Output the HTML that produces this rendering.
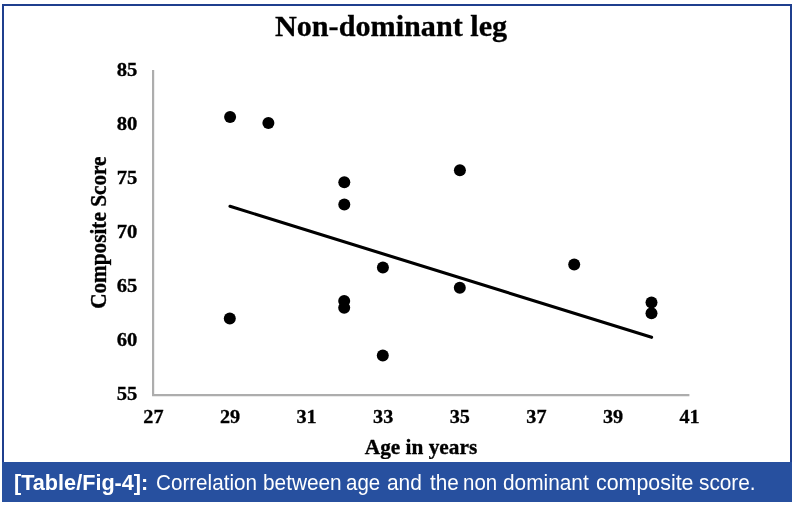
<!DOCTYPE html>
<html>
<head>
<meta charset="utf-8">
<title>Non-dominant leg</title>
<style>
  html, body { margin: 0; padding: 0; background: #ffffff; }
  body { width: 794px; height: 505px; position: relative; overflow: hidden;
         font-family: "Liberation Sans", sans-serif; }
  #frame { position: absolute; left: 2px; top: 4px; width: 786px; height: 494px;
           border: 2px solid #1f3f8e; background: #ffffff; box-sizing: content-box; }
  #bar { position: absolute; left: 2px; top: 462px; width: 790px; height: 39.5px;
         background: #27509f; }
  #cap { position: absolute; left: 0px; top: 470.4px; height: 26px; line-height: 26px;
         color: #ffffff; font-size: 22px; white-space: nowrap;
         font-family: "Liberation Sans", sans-serif; }
  #cap b, #cap span { position: absolute; top: 0; transform-origin: 0 50%; font-weight: normal; }
  #cap b { font-weight: bold; }
  svg { position: absolute; left: 0; top: 0; filter: blur(0.35px); }
  .s { font-family: "Liberation Serif", serif; font-weight: bold; fill: #000; }
</style>
</head>
<body>
<div id="frame"></div>
<div id="bar"></div>
<div id="cap"><b style="left:13.54px;transform:scaleX(0.984)">[Table/Fig-4]:</b> <span style="left:155.97px;transform:scaleX(0.938)">Correlation</span> <span style="left:262.84px;transform:scaleX(0.946)">between</span> <span style="left:346.44px;transform:scaleX(0.93)">age</span> <span style="left:387.47px;transform:scaleX(0.95)">and</span> <span style="left:429.75px;transform:scaleX(0.94)">the</span> <span style="left:463.15px;transform:scaleX(0.93)">non</span> <span style="left:503.44px;transform:scaleX(0.947)">dominant</span> <span style="left:595.91px;transform:scaleX(0.972)">composite</span> <span style="left:699.02px;transform:scaleX(0.945)">score.</span></div>
<svg width="794" height="505" viewBox="0 0 794 505">
  <!-- title -->
  <text id="title" class="s" transform="translate(391.05,35.5) scale(1.0,1)" font-size="30.2" text-anchor="middle" stroke="#000" stroke-width="0.3">Non-dominant leg</text>
  <!-- axes -->
  <line x1="153.1" y1="70" x2="153.1" y2="396.05" stroke="#adadad" stroke-width="2.2"/>
  <line x1="152.1" y1="395.05" x2="689.4" y2="395.05" stroke="#adadad" stroke-width="2.2"/>
  <!-- y tick labels -->
  <g class="s" font-size="18.8" text-anchor="end" stroke="#000" stroke-width="0.3">
    <text transform="translate(137.4,75.7) scale(1.10,1)">85</text>
    <text transform="translate(137.4,129.7) scale(1.10,1)">80</text>
    <text transform="translate(137.4,183.8) scale(1.10,1)">75</text>
    <text transform="translate(137.4,237.9) scale(1.10,1)">70</text>
    <text transform="translate(137.4,292.0) scale(1.10,1)">65</text>
    <text transform="translate(137.4,346.1) scale(1.10,1)">60</text>
    <text transform="translate(137.4,400.2) scale(1.10,1)">55</text>
  </g>
  <!-- x tick labels -->
  <g class="s" font-size="18.8" text-anchor="middle" stroke="#000" stroke-width="0.3">
    <text transform="translate(153.4,423.3) scale(1.075,1)">27</text>
    <text transform="translate(230.0,423.3) scale(1.075,1)">29</text>
    <text transform="translate(306.6,423.3) scale(1.075,1)">31</text>
    <text transform="translate(383.2,423.3) scale(1.075,1)">33</text>
    <text transform="translate(459.8,423.3) scale(1.075,1)">35</text>
    <text transform="translate(536.4,423.3) scale(1.075,1)">37</text>
    <text transform="translate(613.0,423.3) scale(1.075,1)">39</text>
    <text transform="translate(689.6,423.3) scale(1.075,1)">41</text>
  </g>
  <!-- axis titles -->
  <text id="xt" class="s" x="421.0" y="453.5" font-size="21.3" text-anchor="middle" stroke="#000" stroke-width="0.35">Age in years</text>
  <text id="yt" class="s" font-size="21.25" text-anchor="middle" transform="translate(105.9,232.7) rotate(-90) scale(1,1.04)" stroke="#000" stroke-width="0.35">Composite Score</text>
  <!-- trend line -->
  <line x1="230.0" y1="206.3" x2="651.6" y2="337.3" stroke="#000" stroke-width="3.1" stroke-linecap="round"/>
  <!-- points -->
  <g fill="#000">
    <circle cx="230.1" cy="117.0" r="6"/>
    <circle cx="268.4" cy="123.1" r="6"/>
    <circle cx="344.3" cy="182.2" r="6"/>
    <circle cx="344.3" cy="204.4" r="6"/>
    <circle cx="459.9" cy="170.2" r="6"/>
    <circle cx="382.9" cy="267.6" r="6"/>
    <circle cx="344.2" cy="301.0" r="6"/>
    <circle cx="344.2" cy="307.7" r="6"/>
    <circle cx="229.8" cy="318.5" r="6"/>
    <circle cx="459.8" cy="287.7" r="6"/>
    <circle cx="382.8" cy="355.5" r="6"/>
    <circle cx="574.2" cy="264.4" r="6"/>
    <circle cx="651.5" cy="302.4" r="6"/>
    <circle cx="651.5" cy="313.2" r="6"/>
  </g>
</svg>
</body>
</html>
